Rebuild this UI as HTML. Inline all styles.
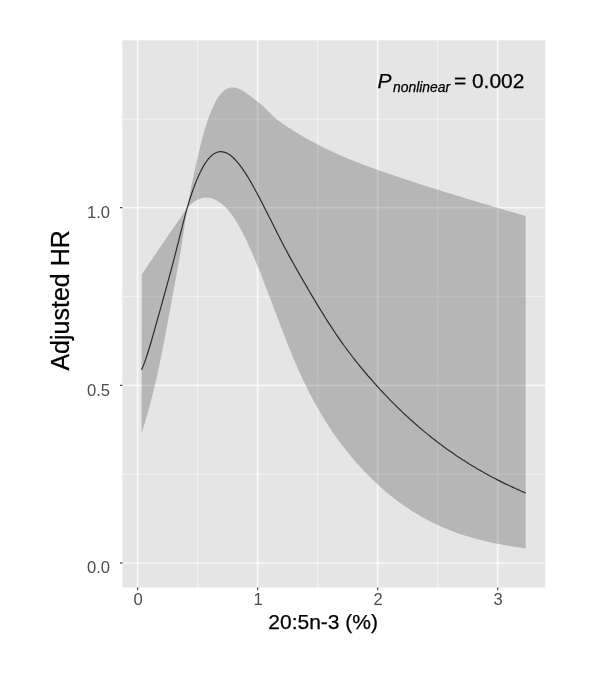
<!DOCTYPE html>
<html><head><meta charset="utf-8"><title>chart</title>
<style>
html,body{margin:0;padding:0;background:#fff;}
body{width:600px;height:679px;overflow:hidden;}
svg{display:block;font-family:"Liberation Sans",sans-serif;}
</style></head>
<body>
<svg width="600" height="679" viewBox="0 0 600 679">
<defs><filter id="soft" x="0" y="0" width="600" height="679" filterUnits="userSpaceOnUse"><feGaussianBlur stdDeviation="0.5"/></filter></defs>
<g filter="url(#soft)">
<rect x="-10" y="-10" width="620" height="699" fill="#ffffff"/>
<rect x="122.4" y="40.3" width="422.9" height="547.25" fill="#e5e5e5"/>
<line x1="197.68" x2="197.68" y1="40.3" y2="587.55" stroke="#fff" stroke-width="2.4" stroke-opacity="0.14"/>
<line x1="197.68" x2="197.68" y1="40.3" y2="587.55" stroke="#fff" stroke-width="0.9" stroke-opacity="0.42"/>
<line x1="317.70" x2="317.70" y1="40.3" y2="587.55" stroke="#fff" stroke-width="2.4" stroke-opacity="0.14"/>
<line x1="317.70" x2="317.70" y1="40.3" y2="587.55" stroke="#fff" stroke-width="0.9" stroke-opacity="0.42"/>
<line x1="437.72" x2="437.72" y1="40.3" y2="587.55" stroke="#fff" stroke-width="2.4" stroke-opacity="0.14"/>
<line x1="437.72" x2="437.72" y1="40.3" y2="587.55" stroke="#fff" stroke-width="0.9" stroke-opacity="0.42"/>
<line y1="474.17" y2="474.17" x1="122.4" x2="545.3" stroke="#fff" stroke-width="2.4" stroke-opacity="0.12"/>
<line y1="474.17" y2="474.17" x1="122.4" x2="545.3" stroke="#fff" stroke-width="0.9" stroke-opacity="0.38"/>
<line y1="296.50" y2="296.50" x1="122.4" x2="545.3" stroke="#fff" stroke-width="2.4" stroke-opacity="0.12"/>
<line y1="296.50" y2="296.50" x1="122.4" x2="545.3" stroke="#fff" stroke-width="0.9" stroke-opacity="0.38"/>
<line y1="119.30" y2="119.30" x1="122.4" x2="545.3" stroke="#fff" stroke-width="2.4" stroke-opacity="0.12"/>
<line y1="119.30" y2="119.30" x1="122.4" x2="545.3" stroke="#fff" stroke-width="0.9" stroke-opacity="0.38"/>
<line x1="137.67" x2="137.67" y1="40.3" y2="587.55" stroke="#fff" stroke-width="3.0" stroke-opacity="0.22"/>
<line x1="137.67" x2="137.67" y1="40.3" y2="587.55" stroke="#fff" stroke-width="1.2" stroke-opacity="0.72"/>
<line x1="257.69" x2="257.69" y1="40.3" y2="587.55" stroke="#fff" stroke-width="3.0" stroke-opacity="0.22"/>
<line x1="257.69" x2="257.69" y1="40.3" y2="587.55" stroke="#fff" stroke-width="1.2" stroke-opacity="0.72"/>
<line x1="377.71" x2="377.71" y1="40.3" y2="587.55" stroke="#fff" stroke-width="3.0" stroke-opacity="0.22"/>
<line x1="377.71" x2="377.71" y1="40.3" y2="587.55" stroke="#fff" stroke-width="1.2" stroke-opacity="0.72"/>
<line x1="497.73" x2="497.73" y1="40.3" y2="587.55" stroke="#fff" stroke-width="3.0" stroke-opacity="0.22"/>
<line x1="497.73" x2="497.73" y1="40.3" y2="587.55" stroke="#fff" stroke-width="1.2" stroke-opacity="0.72"/>
<line y1="563.00" y2="563.00" x1="122.4" x2="545.3" stroke="#fff" stroke-width="3.0" stroke-opacity="0.22"/>
<line y1="563.00" y2="563.00" x1="122.4" x2="545.3" stroke="#fff" stroke-width="1.2" stroke-opacity="0.72"/>
<line y1="385.34" y2="385.34" x1="122.4" x2="545.3" stroke="#fff" stroke-width="3.0" stroke-opacity="0.22"/>
<line y1="385.34" y2="385.34" x1="122.4" x2="545.3" stroke="#fff" stroke-width="1.2" stroke-opacity="0.72"/>
<line y1="207.67" y2="207.67" x1="122.4" x2="545.3" stroke="#fff" stroke-width="3.0" stroke-opacity="0.22"/>
<line y1="207.67" y2="207.67" x1="122.4" x2="545.3" stroke="#fff" stroke-width="1.2" stroke-opacity="0.72"/>
<polygon points="141.8,274.4 143.3,272.2 144.8,269.9 146.3,267.7 147.8,265.5 149.3,263.3 150.8,261.1 152.3,258.9 153.8,256.6 155.3,254.4 156.8,252.2 158.3,250.0 159.8,247.8 161.3,245.6 162.8,243.4 164.3,241.2 165.8,239.0 167.3,236.8 168.8,234.6 170.3,232.4 171.8,230.3 173.3,228.1 174.8,225.9 176.3,223.7 177.8,221.5 179.3,219.4 180.8,217.2 182.3,215.0 183.8,212.8 185.3,210.7 186.8,208.5 187.0,208.2 188.5,200.5 190.0,193.0 191.5,185.6 193.0,178.4 194.5,171.4 196.0,164.6 197.5,157.9 199.0,151.5 200.5,145.3 202.0,139.5 203.5,133.9 205.0,128.8 206.5,123.9 208.0,119.4 209.5,115.3 211.0,111.4 212.5,107.9 214.0,104.7 215.5,101.7 217.0,99.1 218.5,96.8 220.0,94.8 221.5,93.0 223.0,91.5 224.5,90.3 226.0,89.3 227.5,88.5 229.0,88.0 230.5,87.6 232.0,87.5 233.5,87.5 235.0,87.7 236.5,88.0 238.0,88.5 239.5,89.1 241.0,89.8 242.5,90.6 244.0,91.5 245.5,92.5 247.0,93.6 248.5,94.7 250.0,95.8 251.5,96.9 253.0,98.1 254.5,99.3 256.0,100.4 257.5,101.6 259.0,102.8 260.5,104.0 262.0,105.3 263.5,106.6 265.0,108.0 266.5,109.4 268.0,110.9 269.5,112.4 271.0,113.9 272.5,115.4 274.0,116.9 275.5,118.2 277.0,119.5 278.5,120.7 280.0,121.8 281.5,122.8 283.0,123.9 284.5,124.9 286.0,125.9 287.5,126.9 289.0,127.9 290.5,128.8 292.0,129.8 293.5,130.7 295.0,131.7 296.5,132.6 298.0,133.5 299.5,134.4 301.0,135.3 302.5,136.2 304.0,137.0 305.5,137.9 307.0,138.8 308.5,139.6 310.0,140.4 311.5,141.2 313.0,142.0 314.5,142.8 316.0,143.6 317.5,144.4 319.0,145.2 320.5,146.0 322.0,146.7 323.5,147.5 325.0,148.2 326.5,148.9 328.0,149.6 329.5,150.4 331.0,151.1 332.5,151.8 334.0,152.5 335.5,153.1 337.0,153.8 338.5,154.5 340.0,155.1 341.5,155.8 343.0,156.5 344.5,157.1 346.0,157.7 347.5,158.4 349.0,159.0 350.5,159.6 352.0,160.2 353.5,160.8 355.0,161.4 356.5,162.0 358.0,162.6 359.5,163.2 361.0,163.8 362.5,164.3 364.0,164.9 365.5,165.5 367.0,166.0 368.5,166.6 370.0,167.1 371.5,167.7 373.0,168.2 374.5,168.8 376.0,169.3 377.5,169.8 379.0,170.4 380.5,170.9 382.0,171.4 383.5,171.9 385.0,172.5 386.5,173.0 388.0,173.5 389.5,174.0 391.0,174.5 392.5,175.0 394.0,175.5 395.5,176.0 397.0,176.5 398.5,177.0 400.0,177.5 401.5,178.0 403.0,178.5 404.5,179.0 406.0,179.5 407.5,180.0 409.0,180.5 410.5,181.0 412.0,181.5 413.5,182.0 415.0,182.5 416.5,182.9 418.0,183.4 419.5,183.9 421.0,184.4 422.5,184.9 424.0,185.4 425.5,185.8 427.0,186.3 428.5,186.8 430.0,187.3 431.5,187.7 433.0,188.2 434.5,188.7 436.0,189.2 437.5,189.6 439.0,190.1 440.5,190.6 442.0,191.0 443.5,191.5 445.0,192.0 446.5,192.4 448.0,192.9 449.5,193.4 451.0,193.8 452.5,194.3 454.0,194.7 455.5,195.2 457.0,195.7 458.5,196.1 460.0,196.6 461.5,197.0 463.0,197.5 464.5,197.9 466.0,198.4 467.5,198.9 469.0,199.3 470.5,199.8 472.0,200.2 473.5,200.7 475.0,201.1 476.5,201.6 478.0,202.0 479.5,202.5 481.0,202.9 482.5,203.4 484.0,203.8 485.5,204.2 487.0,204.7 488.5,205.1 490.0,205.6 491.5,206.0 493.0,206.5 494.5,206.9 496.0,207.3 497.5,207.8 499.0,208.2 500.5,208.7 502.0,209.1 503.5,209.5 505.0,210.0 506.5,210.4 508.0,210.9 509.5,211.3 511.0,211.7 512.5,212.2 514.0,212.6 515.5,213.0 517.0,213.5 518.5,213.9 520.0,214.4 521.5,214.8 523.0,215.2 524.5,215.7 525.7,216.0 525.7,548.4 524.5,548.2 523.0,548.0 521.5,547.8 520.0,547.6 518.5,547.4 517.0,547.1 515.5,546.9 514.0,546.7 512.5,546.4 511.0,546.2 509.5,545.9 508.0,545.7 506.5,545.4 505.0,545.2 503.5,544.9 502.0,544.6 500.5,544.3 499.0,544.1 497.5,543.8 496.0,543.5 494.5,543.2 493.0,542.9 491.5,542.5 490.0,542.2 488.5,541.9 487.0,541.5 485.5,541.2 484.0,540.8 482.5,540.5 481.0,540.1 479.5,539.7 478.0,539.3 476.5,538.9 475.0,538.5 473.5,538.1 472.0,537.7 470.5,537.2 469.0,536.8 467.5,536.3 466.0,535.9 464.5,535.4 463.0,534.9 461.5,534.4 460.0,533.9 458.5,533.4 457.0,532.9 455.5,532.3 454.0,531.8 452.5,531.2 451.0,530.6 449.5,530.0 448.0,529.4 446.5,528.8 445.0,528.2 443.5,527.6 442.0,526.9 440.5,526.3 439.0,525.6 437.5,524.9 436.0,524.2 434.5,523.5 433.0,522.7 431.5,522.0 430.0,521.2 428.5,520.5 427.0,519.7 425.5,518.9 424.0,518.1 422.5,517.2 421.0,516.4 419.5,515.5 418.0,514.6 416.5,513.8 415.0,512.8 413.5,511.9 412.0,511.0 410.5,510.0 409.0,509.0 407.5,508.0 406.0,507.0 404.5,506.0 403.0,505.0 401.5,503.9 400.0,502.8 398.5,501.7 397.0,500.6 395.5,499.5 394.0,498.3 392.5,497.1 391.0,495.9 389.5,494.7 388.0,493.5 386.5,492.2 385.0,491.0 383.5,489.7 382.0,488.3 380.5,487.0 379.0,485.7 377.5,484.3 376.0,482.9 374.5,481.5 373.0,480.0 371.5,478.6 370.0,477.1 368.5,475.6 367.0,474.1 365.5,472.5 364.0,470.9 362.5,469.3 361.0,467.7 359.5,466.1 358.0,464.4 356.5,462.7 355.0,461.0 353.5,459.3 352.0,457.5 350.5,455.7 349.0,453.9 347.5,452.1 346.0,450.2 344.5,448.3 343.0,446.4 341.5,444.4 340.0,442.4 338.5,440.4 337.0,438.3 335.5,436.2 334.0,434.1 332.5,431.9 331.0,429.7 329.5,427.4 328.0,425.1 326.5,422.8 325.0,420.4 323.5,418.0 322.0,415.5 320.5,413.0 319.0,410.4 317.5,407.8 316.0,405.1 314.5,402.4 313.0,399.7 311.5,396.8 310.0,394.0 308.5,391.0 307.0,388.1 305.5,385.0 304.0,381.9 302.5,378.8 301.0,375.5 299.5,372.3 298.0,368.9 296.5,365.5 295.0,362.0 293.5,358.5 292.0,354.9 290.5,351.3 289.0,347.5 287.5,343.8 286.0,340.0 284.5,336.1 283.0,332.3 281.5,328.4 280.0,324.4 278.5,320.5 277.0,316.5 275.5,312.5 274.0,308.6 272.5,304.6 271.0,300.6 269.5,296.6 268.0,292.7 266.5,288.8 265.0,284.9 263.5,281.0 262.0,277.1 260.5,273.3 259.0,269.6 257.5,265.9 256.0,262.2 254.5,258.6 253.0,255.1 251.5,251.6 250.0,248.2 248.5,244.9 247.0,241.7 245.5,238.5 244.0,235.5 242.5,232.5 241.0,229.7 239.5,226.9 238.0,224.3 236.5,221.8 235.0,219.4 233.5,217.1 232.0,215.0 230.5,213.0 229.0,211.1 227.5,209.4 226.0,207.7 224.5,206.3 223.0,204.9 221.5,203.6 220.0,202.5 218.5,201.5 217.0,200.6 215.5,199.9 214.0,199.2 212.5,198.7 211.0,198.2 209.5,197.9 208.0,197.7 206.5,197.6 205.0,197.7 203.5,197.8 202.0,198.1 200.5,198.5 199.0,199.0 197.5,199.7 196.0,200.5 194.5,201.4 193.0,202.5 191.5,203.7 190.0,205.0 188.5,206.5 187.0,208.2 186.6,211.3 185.1,222.2 183.6,232.5 182.1,242.2 180.6,251.4 179.1,260.2 177.6,268.6 176.1,276.9 174.6,285.0 173.1,293.0 171.6,301.1 170.1,309.3 168.6,317.4 167.1,325.5 165.6,333.5 164.1,341.4 162.6,349.2 161.1,356.7 159.6,364.0 158.1,371.0 156.6,377.7 155.1,384.2 153.6,390.5 152.1,396.5 150.6,402.3 149.1,407.9 147.6,413.3 146.1,418.5 144.6,423.4 143.1,428.2 141.6,432.8" fill="rgba(51,51,51,0.26)"/>
<polyline points="141.5,369.8 143.0,366.4 144.5,362.6 146.0,358.4 147.5,353.8 149.0,349.0 150.5,344.0 152.0,338.8 153.5,333.5 155.0,328.1 156.5,322.8 158.0,317.4 159.5,312.1 161.0,306.8 162.5,301.4 164.0,296.0 165.5,290.6 167.0,285.2 168.5,279.7 170.0,274.2 171.5,268.5 173.0,262.9 174.5,257.1 176.0,251.3 177.5,245.4 179.0,239.5 180.5,233.5 182.0,227.6 183.5,221.7 185.0,215.9 186.5,210.4 188.0,205.2 189.5,200.4 191.0,195.7 192.5,191.3 194.0,187.1 195.5,183.2 197.0,179.4 198.5,176.0 200.0,172.7 201.5,169.7 203.0,166.9 204.5,164.4 206.0,162.1 207.5,160.0 209.0,158.2 210.5,156.6 212.0,155.3 213.5,154.1 215.0,153.2 216.5,152.5 218.0,152.0 219.5,151.7 221.0,151.7 222.5,151.8 224.0,152.1 225.5,152.6 227.0,153.2 228.5,154.1 230.0,155.1 231.5,156.2 233.0,157.5 234.5,159.0 236.0,160.6 237.5,162.3 239.0,164.1 240.5,166.1 242.0,168.1 243.5,170.3 245.0,172.5 246.5,174.9 248.0,177.3 249.5,179.8 251.0,182.4 252.5,185.0 254.0,187.7 255.5,190.5 257.0,193.2 258.5,196.1 260.0,198.9 261.5,201.8 263.0,204.7 264.5,207.7 266.0,210.7 267.5,213.6 269.0,216.6 270.5,219.6 272.0,222.6 273.5,225.6 275.0,228.6 276.5,231.6 278.0,234.6 279.5,237.5 281.0,240.4 282.5,243.3 284.0,246.2 285.5,249.0 287.0,251.8 288.5,254.6 290.0,257.4 291.5,260.1 293.0,262.8 294.5,265.5 296.0,268.1 297.5,270.8 299.0,273.4 300.5,276.0 302.0,278.6 303.5,281.2 305.0,283.8 306.5,286.4 308.0,289.0 309.5,291.5 311.0,294.1 312.5,296.6 314.0,299.1 315.5,301.6 317.0,304.1 318.5,306.6 320.0,309.1 321.5,311.5 323.0,313.9 324.5,316.3 326.0,318.7 327.5,321.1 329.0,323.4 330.5,325.7 332.0,328.0 333.5,330.3 335.0,332.5 336.5,334.8 338.0,336.9 339.5,339.1 341.0,341.3 342.5,343.4 344.0,345.5 345.5,347.5 347.0,349.6 348.5,351.6 350.0,353.5 351.5,355.5 353.0,357.5 354.5,359.4 356.0,361.3 357.5,363.1 359.0,365.0 360.5,366.8 362.0,368.7 363.5,370.5 365.0,372.2 366.5,374.0 368.0,375.8 369.5,377.5 371.0,379.2 372.5,380.9 374.0,382.6 375.5,384.3 377.0,386.0 378.5,387.6 380.0,389.3 381.5,390.9 383.0,392.5 384.5,394.1 386.0,395.7 387.5,397.2 389.0,398.8 390.5,400.3 392.0,401.8 393.5,403.4 395.0,404.9 396.5,406.3 398.0,407.8 399.5,409.3 401.0,410.7 402.5,412.2 404.0,413.6 405.5,415.0 407.0,416.4 408.5,417.7 410.0,419.1 411.5,420.5 413.0,421.8 414.5,423.1 416.0,424.5 417.5,425.8 419.0,427.1 420.5,428.3 422.0,429.6 423.5,430.9 425.0,432.1 426.5,433.4 428.0,434.6 429.5,435.8 431.0,437.0 432.5,438.2 434.0,439.3 435.5,440.5 437.0,441.7 438.5,442.8 440.0,443.9 441.5,445.1 443.0,446.2 444.5,447.3 446.0,448.4 447.5,449.4 449.0,450.5 450.5,451.6 452.0,452.6 453.5,453.6 455.0,454.7 456.5,455.7 458.0,456.7 459.5,457.7 461.0,458.7 462.5,459.7 464.0,460.6 465.5,461.6 467.0,462.5 468.5,463.5 470.0,464.4 471.5,465.3 473.0,466.2 474.5,467.1 476.0,468.0 477.5,468.9 479.0,469.8 480.5,470.6 482.0,471.5 483.5,472.3 485.0,473.2 486.5,474.0 488.0,474.8 489.5,475.7 491.0,476.5 492.5,477.3 494.0,478.0 495.5,478.8 497.0,479.6 498.5,480.4 500.0,481.1 501.5,481.9 503.0,482.6 504.5,483.4 506.0,484.1 507.5,484.8 509.0,485.5 510.5,486.2 512.0,486.9 513.5,487.6 515.0,488.3 516.5,489.0 518.0,489.6 519.5,490.3 521.0,491.0 522.5,491.6 524.0,492.3 525.5,492.9 525.7,493.0" fill="none" stroke="#2c2c2c" stroke-width="1.2" stroke-linejoin="round"/>
<line x1="137.67" x2="137.67" y1="587.55" y2="590.3499999999999" stroke="#333" stroke-width="1.1"/>
<line x1="257.69" x2="257.69" y1="587.55" y2="590.3499999999999" stroke="#333" stroke-width="1.1"/>
<line x1="377.71" x2="377.71" y1="587.55" y2="590.3499999999999" stroke="#333" stroke-width="1.1"/>
<line x1="497.73" x2="497.73" y1="587.55" y2="590.3499999999999" stroke="#333" stroke-width="1.1"/>
<line y1="563.00" y2="563.00" x1="120.0" x2="122.4" stroke="#333" stroke-width="1.1"/>
<line y1="385.34" y2="385.34" x1="120.0" x2="122.4" stroke="#333" stroke-width="1.1"/>
<line y1="207.67" y2="207.67" x1="120.0" x2="122.4" stroke="#333" stroke-width="1.1"/>
<text x="138.17" y="604.7" font-size="16.6" fill="#4d4d4d" text-anchor="middle">0</text>
<text x="258.19" y="604.7" font-size="16.6" fill="#4d4d4d" text-anchor="middle">1</text>
<text x="378.21" y="604.7" font-size="16.6" fill="#4d4d4d" text-anchor="middle">2</text>
<text x="498.23" y="604.7" font-size="16.6" fill="#4d4d4d" text-anchor="middle">3</text>
<text x="110.0" y="573.30" font-size="16.6" fill="#4d4d4d" text-anchor="end">0.0</text>
<text x="110.0" y="395.64" font-size="16.6" fill="#4d4d4d" text-anchor="end">0.5</text>
<text x="110.0" y="217.97" font-size="16.6" fill="#4d4d4d" text-anchor="end">1.0</text>
<text x="268.3" y="628.9" font-size="21" fill="#000" stroke="#000" stroke-width="0.25">20:5n-3 (%)</text>
<text transform="translate(68.6,370.6) rotate(-90)" font-size="25" fill="#000" stroke="#000" stroke-width="0.25">Adjusted HR</text>
<text x="377.5" y="88.0" font-size="21" fill="#000" stroke="#000" stroke-width="0.25" font-style="italic">P</text>
<text x="393.0" y="92.4" font-size="14" fill="#000" stroke="#000" stroke-width="0.25" font-style="italic" textLength="57.2" lengthAdjust="spacingAndGlyphs">nonlinear</text>
<text x="454.0" y="88.0" font-size="21" fill="#000" stroke="#000" stroke-width="0.25">=</text>
<text x="471.9" y="88.0" font-size="21" fill="#000" stroke="#000" stroke-width="0.25">0.002</text>
</g>
</svg>
</body></html>
